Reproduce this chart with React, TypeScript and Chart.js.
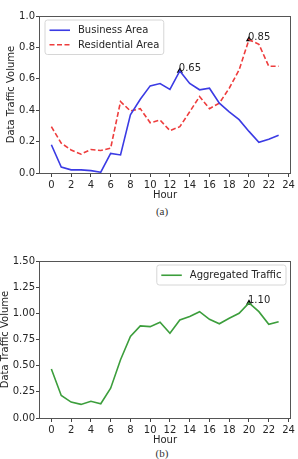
import React, { useEffect, useRef } from "react";
import { Chart, registerables } from "chart.js";

Chart.register(...registerables);

// Hour of day for each sample
const HOURS = [0, 1, 2, 3, 4, 5, 6, 7, 8, 9, 10, 11, 12, 13, 14, 15, 16, 17, 18, 19, 20, 21, 22, 23];

// (a) normalised traffic per area type
const BUSINESS = [0.18, 0.038, 0.02, 0.02, 0.015, 0.005, 0.125, 0.115, 0.37, 0.47, 0.555, 0.57, 0.533, 0.65, 0.57, 0.53, 0.54, 0.445, 0.39, 0.34, 0.265, 0.195, 0.215, 0.24];
const RESIDENTIAL = [0.295, 0.19, 0.147, 0.12, 0.15, 0.143, 0.158, 0.455, 0.395, 0.41, 0.32, 0.337, 0.27, 0.295, 0.39, 0.487, 0.41, 0.445, 0.54, 0.657, 0.85, 0.82, 0.68, 0.68];

// (b) aggregated traffic
const AGGREGATED = [0.468, 0.215, 0.152, 0.13, 0.16, 0.136, 0.285, 0.557, 0.78, 0.88, 0.873, 0.915, 0.81, 0.937, 0.97, 1.016, 0.943, 0.9, 0.953, 1.0, 1.1, 1.016, 0.895, 0.92];

// Annotated peaks (hour index)
const BUSINESS_PEAK = 13;
const RESIDENTIAL_PEAK = 20;
const AGGREGATED_PEAK = 20;

// Axis ticks
const X_TICKS = [0, 2, 4, 6, 8, 10, 12, 14, 16, 18, 20, 22, 24];
const Y_TICKS_A = [0, 0.2, 0.4, 0.6, 0.8, 1.0];
const Y_TICKS_B = [0, 0.25, 0.5, 0.75, 1.0, 1.25, 1.5];

const FONT = '"DejaVu Sans", sans-serif';
const FONT_SIZE = 10;
const TEXT_COLOR = "#262626";
const BLUE = "#3b3be4";
const RED = "#ee3d3d";
const GREEN = "#3c9e3c";
const DASH = [5, 2.5];
const LINE_WIDTH = 1.6;

type LegendItem = { label: string; color: string; dash: number[] };

function frameLegendPeaks(items: LegendItem[], corner: "left" | "right") {
  return {
    id: "frameLegendPeaks",
    afterDatasetsDraw(chart: any) {
      const { ctx } = chart;
      ctx.save();
      ctx.font = `${FONT_SIZE}px ${FONT}`;
      ctx.fillStyle = TEXT_COLOR;
      ctx.textAlign = "left";
      ctx.textBaseline = "alphabetic";
      chart.data.datasets.forEach((ds: any, i: number) => {
        if (!ds.peakLabel) return;
        const meta = chart.getDatasetMeta(i);
        meta.data.forEach((el: any, j: number) => {
          const v = ds.data[j].y as number;
          ctx.fillText(v.toFixed(2), el.x - 1, el.y + 0.5);
        });
      });
      ctx.restore();
    },
    afterDraw(chart: any) {
      const { ctx, chartArea } = chart;
      ctx.save();
      // plot frame
      ctx.strokeStyle = "#555555";
      ctx.lineWidth = 1;
      ctx.strokeRect(
        Math.round(chartArea.left) - 0.5,
        Math.round(chartArea.top) + 0.5,
        Math.round(chartArea.right - chartArea.left) + 1,
        Math.round(chartArea.bottom - chartArea.top)
      );
      // legend box
      ctx.font = `${FONT_SIZE}px ${FONT}`;
      const textW = Math.max(...items.map((it) => ctx.measureText(it.label).width));
      const pad = 4.5;
      const handle = 20.5;
      const gap = 8;
      const rowH = 14.5;
      const w = pad + handle + gap + textW + pad;
      const h = items.length * rowH + 5.5;
      const x = corner === "left" ? chartArea.left + 5 : chartArea.right - 4 - w;
      const y = chartArea.top + 4;
      ctx.beginPath();
      const r = 2.5;
      ctx.moveTo(x + r, y);
      ctx.arcTo(x + w, y, x + w, y + h, r);
      ctx.arcTo(x + w, y + h, x, y + h, r);
      ctx.arcTo(x, y + h, x, y, r);
      ctx.arcTo(x, y, x + w, y, r);
      ctx.closePath();
      ctx.fillStyle = "rgba(255,255,255,0.85)";
      ctx.fill();
      ctx.strokeStyle = "#d6d6d6";
      ctx.lineWidth = 1;
      ctx.stroke();
      items.forEach((it, i) => {
        const cy = y + 3 + rowH * (i + 0.5);
        ctx.beginPath();
        ctx.setLineDash(it.dash);
        ctx.strokeStyle = it.color;
        ctx.lineWidth = LINE_WIDTH;
        ctx.moveTo(x + pad, cy);
        ctx.lineTo(x + pad + handle, cy);
        ctx.stroke();
        ctx.setLineDash([]);
        ctx.fillStyle = TEXT_COLOR;
        ctx.textBaseline = "middle";
        ctx.textAlign = "left";
        ctx.fillText(it.label, x + pad + handle + gap, cy + 0.5);
      });
      ctx.restore();
    },
  };
}

function points(values: number[]) {
  return HOURS.map((h, i) => ({ x: h, y: values[i] }));
}

function peakDataset(values: number[], idx: number) {
  return {
    type: "scatter" as const,
    data: [{ x: HOURS[idx], y: values[idx] }],
    pointStyle: "triangle",
    pointRadius: 3.6,
    backgroundColor: "#000000",
    borderColor: "#000000",
    borderWidth: 0,
    peakLabel: true,
    showLine: false,
  };
}

function lineDataset(values: number[], color: string, dash: number[] = []) {
  return {
    type: "line" as const,
    data: points(values),
    borderColor: color,
    borderWidth: LINE_WIDTH,
    borderDash: dash,
    pointRadius: 0,
    tension: 0,
    fill: false,
  };
}

function makeOptions(yTicks: number[], yMax: number, decimals: number, top: number, yTitlePad: number) {
  const tickFont = { family: FONT, size: FONT_SIZE };
  return {
    responsive: false,
    animation: false as const,
    devicePixelRatio: 1,
    layout: { padding: { top, right: 8, left: 0, bottom: 0 } },
    plugins: { legend: { display: false }, tooltip: { enabled: false } },
    scales: {
      x: {
        type: "linear" as const,
        min: -1.15,
        max: 24.15,
        afterBuildTicks: (s: any) => {
          s.ticks = X_TICKS.map((v) => ({ value: v }));
        },
        afterFit: (s: any) => {
          s.height = 29;
        },
        ticks: {
          autoSkip: false,
          maxRotation: 0,
          padding: 2,
          color: TEXT_COLOR,
          font: tickFont,
          callback: (v: any) => String(v),
        },
        grid: { display: true, drawOnChartArea: false, drawTicks: true, tickLength: 4, color: "#444444" },
        border: { display: false },
        title: { display: true, text: "Hour", color: TEXT_COLOR, font: tickFont, padding: { top: 0, bottom: 1 } },
      },
      y: {
        type: "linear" as const,
        min: 0,
        max: yMax,
        afterBuildTicks: (s: any) => {
          s.ticks = yTicks.map((v) => ({ value: v }));
        },
        afterFit: (s: any) => {
          s.width = 40;
        },
        ticks: {
          padding: 1,
          color: TEXT_COLOR,
          font: tickFont,
          callback: (v: any) => Number(v).toFixed(decimals),
        },
        grid: { display: true, drawOnChartArea: false, drawTicks: true, tickLength: 4, color: "#444444" },
        border: { display: false },
        title: {
          display: true,
          text: "Data Traffic Volume",
          color: TEXT_COLOR,
          font: tickFont,
          padding: { top: yTitlePad, bottom: 0 },
        },
      },
    },
  };
}

function AreaChart() {
  const ref = useRef<HTMLCanvasElement | null>(null);
  useEffect(() => {
    if (!ref.current) return;
    const chart = new Chart(ref.current, {
      type: "line",
      data: {
        datasets: [
          lineDataset(BUSINESS, BLUE),
          lineDataset(RESIDENTIAL, RED, DASH),
          peakDataset(BUSINESS, BUSINESS_PEAK),
          peakDataset(RESIDENTIAL, RESIDENTIAL_PEAK),
        ] as any,
      },
      options: makeOptions(Y_TICKS_A, 1.0, 1, 16, 5.5) as any,
      plugins: [
        frameLegendPeaks(
          [
            { label: "Business Area", color: BLUE, dash: [] },
            { label: "Residential Area", color: RED, dash: DASH },
          ],
          "left"
        ),
      ],
    });
    return () => chart.destroy();
  }, []);
  return <canvas ref={ref} width={298} height={202} style={{ display: "block", position: "absolute", left: 0, top: 0 }} />;
}

function AggregatedChart() {
  const ref = useRef<HTMLCanvasElement | null>(null);
  useEffect(() => {
    if (!ref.current) return;
    const chart = new Chart(ref.current, {
      type: "line",
      data: {
        datasets: [lineDataset(AGGREGATED, GREEN), peakDataset(AGGREGATED, AGGREGATED_PEAK)] as any,
      },
      options: makeOptions(Y_TICKS_B, 1.5, 2, 26, -1) as any,
      plugins: [frameLegendPeaks([{ label: "Aggregated Traffic", color: GREEN, dash: [] }], "right")],
    });
    return () => chart.destroy();
  }, []);
  return <canvas ref={ref} width={298} height={212} style={{ display: "block", position: "absolute", left: 0, top: 235 }} />;
}

const captionStyle: React.CSSProperties = {
  position: "absolute",
  left: 0,
  width: 324,
  textAlign: "center",
  fontFamily: '"Liberation Serif", serif',
  fontSize: 11,
  lineHeight: "12px",
  color: "#333",
};

export default function App() {
  return (
    <div style={{ position: "absolute", left: 0, top: 0, width: 298, height: 459, background: "#fff", overflow: "hidden" }}>
      <AreaChart />
      <div style={{ ...captionStyle, top: 205 }}>(a)</div>
      <AggregatedChart />
      <div style={{ ...captionStyle, top: 447 }}>(b)</div>
    </div>
  );
}
